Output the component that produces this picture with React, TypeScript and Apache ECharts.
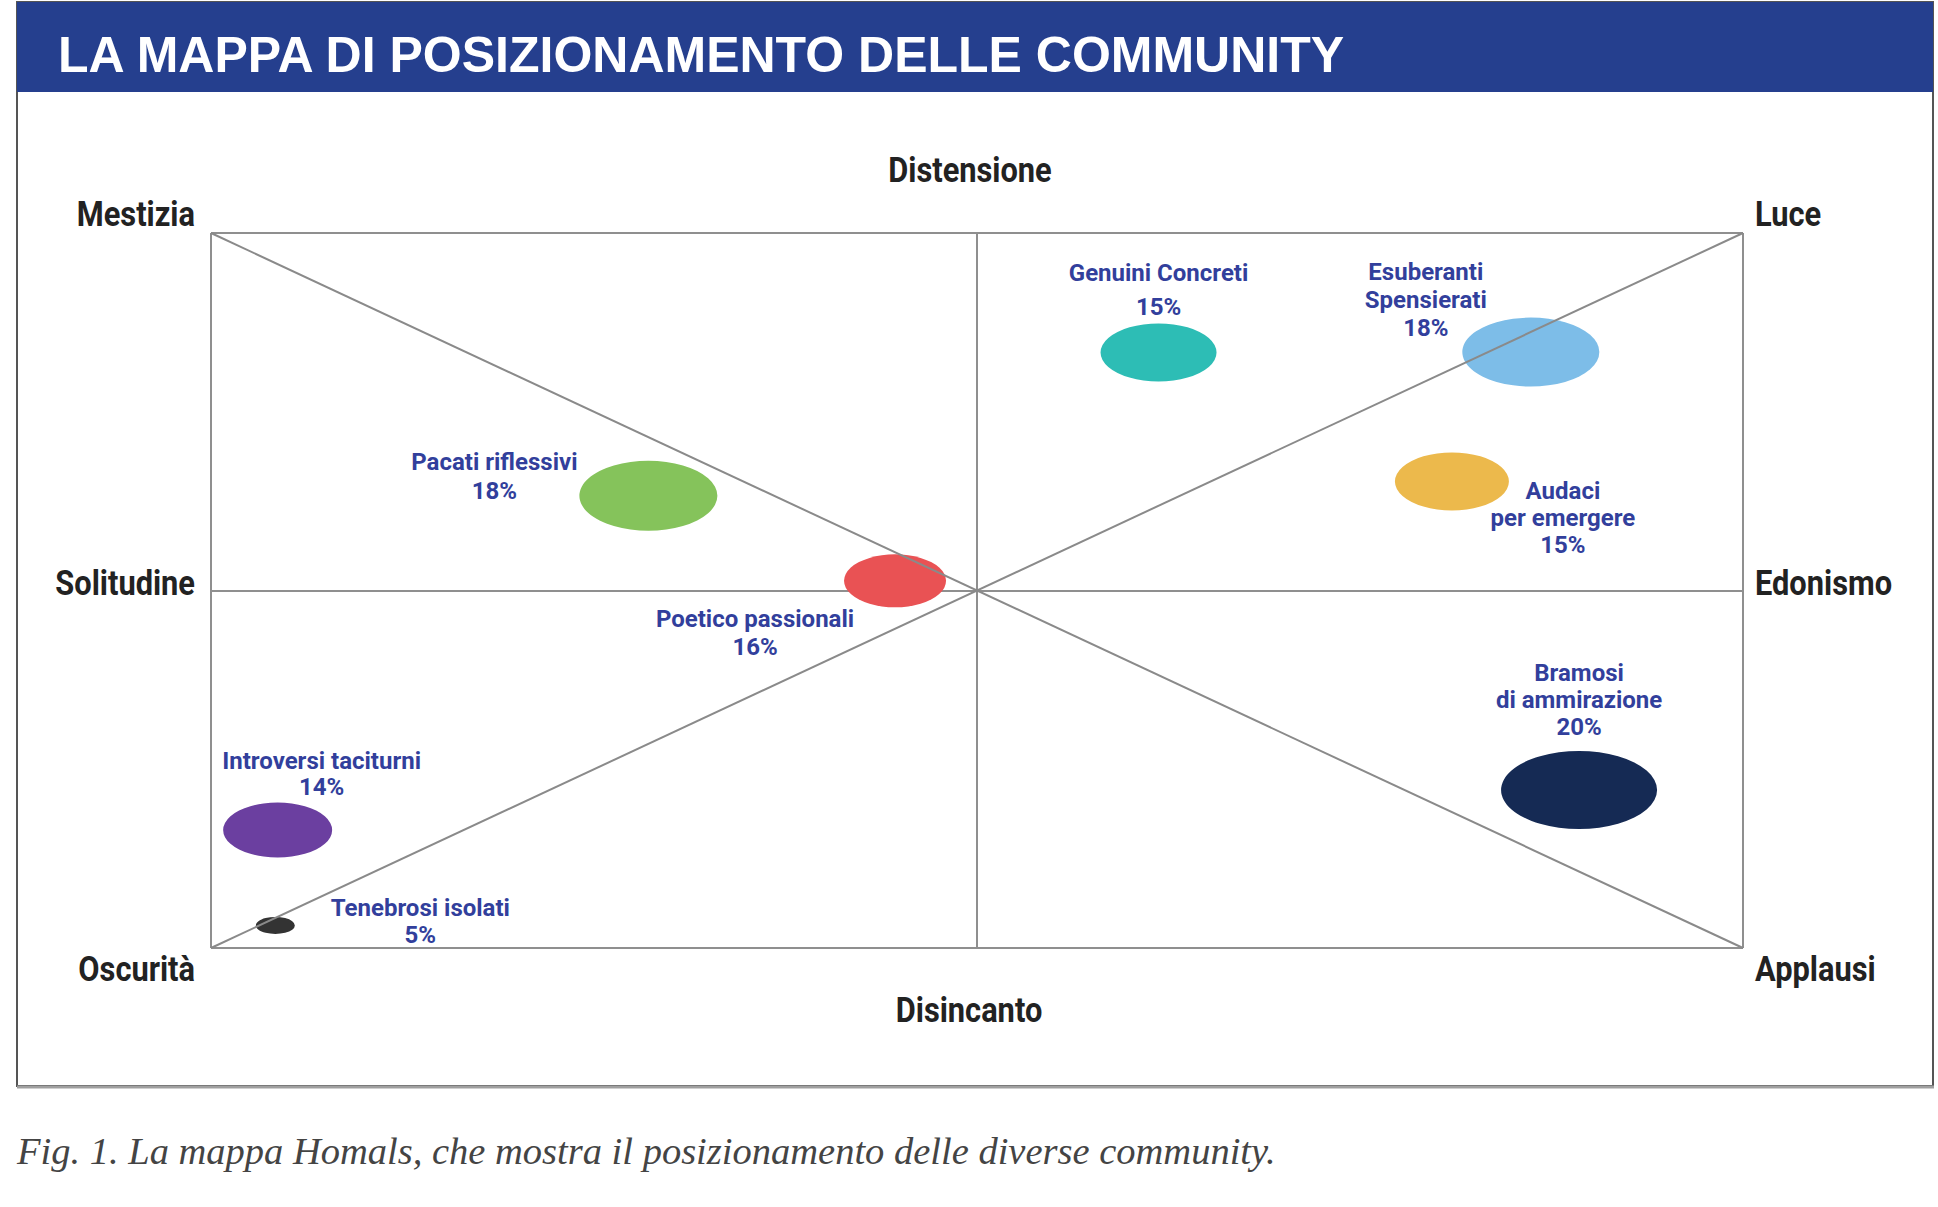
import React, { useEffect, useRef } from "react";
import * as echarts from "echarts";

// ---- data ----
const communities = [
  "Genuini Concreti",
  "Esuberanti Spensierati",
  "Audaci per emergere",
  "Pacati riflessivi",
  "Poetico passionali",
  "Introversi taciturni",
  "Tenebrosi isolati",
  "Bramosi di ammirazione",
];
const labelLines = [
  "Genuini Concreti",
  "Esuberanti\nSpensierati",
  "Audaci\nper emergere",
  "Pacati riflessivi",
  "Poetico passionali",
  "Introversi taciturni",
  "Tenebrosi isolati",
  "Bramosi\ndi ammirazione",
];
const shares = [15, 18, 15, 18, 16, 14, 5, 20];
const xPos = [0.237, 0.723, 0.62, -0.429, -0.107, -0.913, -0.916, 0.786];
const yPos = [0.666, 0.667, 0.305, 0.265, 0.027, -0.67, -0.937, -0.558];

// axis pole names
const topLabel = "Distensione";
const bottomLabel = "Disincanto";
const leftLabels = ["Mestizia", "Solitudine", "Oscurità"];
const rightLabels = ["Luce", "Edonismo", "Applausi"];

const titleText = "LA MAPPA DI POSIZIONAMENTO DELLE COMMUNITY";
const captionText =
  "Fig. 1. La mappa Homals, che mostra il posizionamento delle diverse community.";

// ---- styles (layout only) ----
const colors = [
  "#2dbdb5",
  "#7dbde8",
  "#ecb94c",
  "#85c35b",
  "#e95254",
  "#6b3fa0",
  "#333333",
  "#152a54",
];
const ellipseSize = [
  [116, 58],
  [137, 69],
  [114, 58],
  [138, 70],
  [102, 53],
  [109, 55],
  [39, 17],
  [156, 78],
];
const labelOffset = [
  [0, -62],
  [-105, -52],
  [111, 37],
  [-154, -19],
  [-140, 52],
  [44, -56],
  [145, -4],
  [0, -90],
];
const labelLineHeight = [34, 28, 27, 29, 28, 26, 27, 27];

const SANS = "Roboto, 'Liberation Sans', Arial, sans-serif";
const LABEL_BLUE = "#323f9c";

const GRID = { left: 211, top: 233, right: 1743, bottom: 948 };

export default function App() {
  const ref = useRef<HTMLDivElement>(null);

  useEffect(() => {
    document.body.style.margin = "0";
    document.body.style.overflow = "hidden";
    const chart = echarts.init(ref.current!, null, { renderer: "svg" });

    const bubbleData = communities.map((name, i) => ({
      name,
      value: [xPos[i], yPos[i], shares[i]],
      symbolSize: ellipseSize[i],
      itemStyle: { color: colors[i], opacity: 1 },
      label: {
        show: true,
        position: "inside",
        offset: labelOffset[i],
        align: "center",
        verticalAlign: "middle",
        lineHeight: labelLineHeight[i],
        formatter: () => `${labelLines[i]}\n${shares[i]}%`,
      },
    }));

    const axisText = (
      text: string,
      x: number,
      y: number,
      align: string
    ) => ({
      type: "text",
      x,
      y,
      scaleX: 0.88,
      style: {
        text,
        fill: "#222222",
        font: `bold 35px ${SANS}`,
        align,
        verticalAlign: "middle",
      },
    });

    const option = {
      animation: false,
      backgroundColor: "#ffffff",
      grid: {
        left: GRID.left,
        top: GRID.top,
        width: GRID.right - GRID.left,
        height: GRID.bottom - GRID.top,
        containLabel: false,
      },
      xAxis: {
        type: "value",
        min: -1,
        max: 1,
        interval: 1,
        axisLine: { show: false },
        axisTick: { show: false },
        axisLabel: { show: false },
        splitLine: { show: true, lineStyle: { color: "#8f8f8f", width: 2 } },
      },
      yAxis: {
        type: "value",
        min: -1,
        max: 1,
        interval: 1,
        axisLine: { show: false },
        axisTick: { show: false },
        axisLabel: { show: false },
        splitLine: { show: true, lineStyle: { color: "#8f8f8f", width: 2 } },
      },
      series: [
        {
          type: "line",
          data: [
            [-1, 1],
            [1, -1],
          ],
          symbol: "none",
          silent: true,
          lineStyle: { color: "#8a8a8a", width: 2 },
        },
        {
          type: "line",
          data: [
            [-1, -1],
            [1, 1],
          ],
          symbol: "none",
          silent: true,
          lineStyle: { color: "#8a8a8a", width: 2 },
        },
        {
          type: "scatter",
          symbol: "circle",
          data: bubbleData,
          itemStyle: { opacity: 1 },
          label: {
            color: LABEL_BLUE,
            fontFamily: SANS,
            fontWeight: "bold",
            fontSize: 24,
            opacity: 1,
          },
        },
      ],
      graphic: [
        {
          type: "rect",
          shape: { x: 17, y: 2, width: 1916, height: 1084 },
          style: { fill: "none", stroke: "#555555", lineWidth: 2 },
          z: 10,
        },
        {
          type: "line",
          shape: { x1: 17, y1: 1087, x2: 1934, y2: 1087 },
          style: { stroke: "#a0a0a0", lineWidth: 3 },
          z: 10,
        },
        {
          type: "rect",
          shape: { x: 17, y: 2, width: 1916, height: 90 },
          style: { fill: "#253f8e" },
          z: 11,
        },
        {
          type: "text",
          x: 58,
          y: 55,
          z: 12,
          style: {
            text: titleText,
            fill: "#ffffff",
            font: "bold 50px 'Liberation Sans', Arial, sans-serif",
            align: "left",
            verticalAlign: "middle",
          },
        },
        axisText(topLabel, 970, 170, "center"),
        axisText(bottomLabel, 969, 1010, "center"),
        axisText(leftLabels[0], 195, 214, "right"),
        axisText(leftLabels[1], 195, 583, "right"),
        axisText(leftLabels[2], 195, 969, "right"),
        axisText(rightLabels[0], 1755, 214, "left"),
        axisText(rightLabels[1], 1755, 583, "left"),
        axisText(rightLabels[2], 1755, 969, "left"),
        {
          type: "text",
          x: 17,
          y: 1151,
          style: {
            text: captionText,
            fill: "#444444",
            font: "italic 38.5px 'Liberation Serif', serif",
            align: "left",
            verticalAlign: "middle",
          },
        },
      ],
    };

    chart.setOption(option as any);
    return () => chart.dispose();
  }, []);

  return (
    <div
      ref={ref}
      style={{ position: "absolute", left: 0, top: 0, width: 1938, height: 1207 }}
    />
  );
}
